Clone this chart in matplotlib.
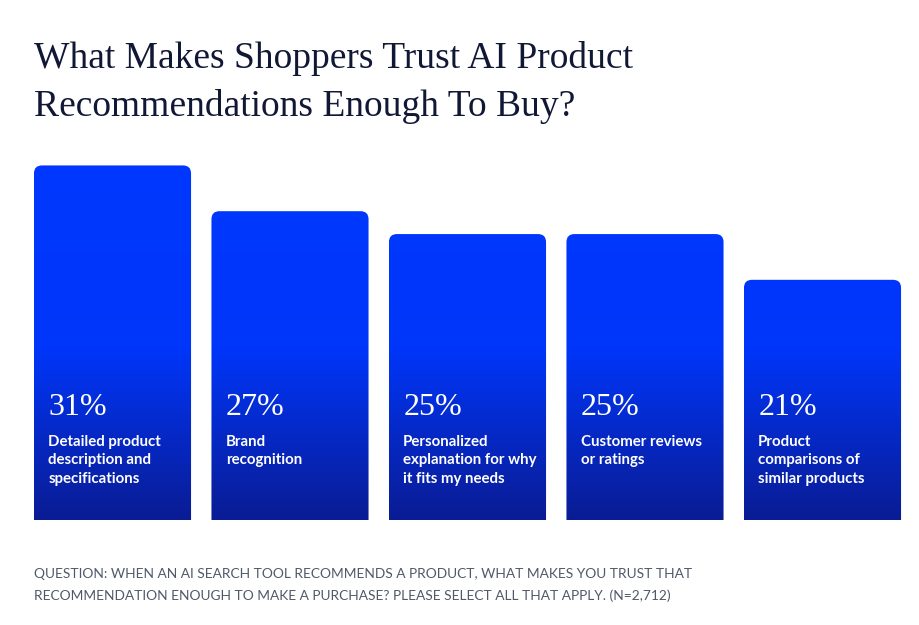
import matplotlib.pyplot as plt
import numpy as np
from matplotlib.patches import FancyBboxPatch
from matplotlib.colors import LinearSegmentedColormap

values = [31, 27, 25, 25, 21]
labels = ['Detailed product\ndescription and\nspecifications',
          'Brand\nrecognition',
          'Personalized\nexplanation for why\nit fits my needs',
          'Customer reviews\nor ratings',
          'Product\ncomparisons of\nsimilar products']
pct_labels = ['%d%%' % v for v in values]

title = 'What Makes Shoppers Trust AI Product\nRecommendations Enough To Buy?'
note = ('QUESTION: WHEN AN AI SEARCH TOOL RECOMMENDS A PRODUCT, WHAT MAKES YOU TRUST THAT\n'
        'RECOMMENDATION ENOUGH TO MAKE A PURCHASE? PLEASE SELECT ALL THAT APPLY. (N=2,712)')

W, H = 919, 625
fig = plt.figure(figsize=(W / 100, H / 100), dpi=100)
fig.patch.set_facecolor('white')

# axes placed in pixel terms: bars start at x=34, baseline at y=520
ax = fig.add_axes([23.75 / W, 105 / H, 887.5 / W, 366 / H])
ax.set_xlim(-0.5, 4.5)
ax.set_ylim(0, 32)
ax.axis('off')

cmap = LinearSegmentedColormap.from_list('bars', [(0, '#0A1C94'), (0.47, '#0036FA'), (1, '#0038FF')])
grad = np.linspace(0, 1, 256).reshape(-1, 1)

bw = 0.885
# corner radius ~8px in each direction
rx = 8 / 177.5
ry = 8 / 11.44
for i, v in enumerate(values):
    x0 = i - bw / 2
    patch = FancyBboxPatch((x0, -2), bw, v + 2,
                           boxstyle='round,pad=0,rounding_size=%f' % rx,
                           mutation_aspect=ry / rx,
                           facecolor='none', edgecolor='none')
    ax.add_patch(patch)
    im = ax.imshow(grad, extent=[x0, x0 + bw, 0, 32], origin='lower',
                   cmap=cmap, aspect='auto', interpolation='bilinear', zorder=1)
    im.set_clip_path(patch)
    ax.text(x0 + 0.08, 9.15, pct_labels[i], color='white', fontsize=23,
            family='Liberation Serif', va='baseline', ha='left', zorder=3)
    ax.text(x0 + 0.08, 7.45, labels[i], color='white', fontsize=10.8,
            family='Lato', weight='bold', va='top', ha='left',
            linespacing=1.4, zorder=3)

fig.text(34 / W, 1 - 41 / H, title, color='#111836', fontsize=27,
         family='Liberation Serif', va='top', ha='left', linespacing=1.5)
fig.text(34 / W, 1 - 568 / H, note, color='#505968', fontsize=9.9,
         family='Lato', va='top', ha='left', linespacing=1.85)

plt.savefig('out.png', dpi=100)
